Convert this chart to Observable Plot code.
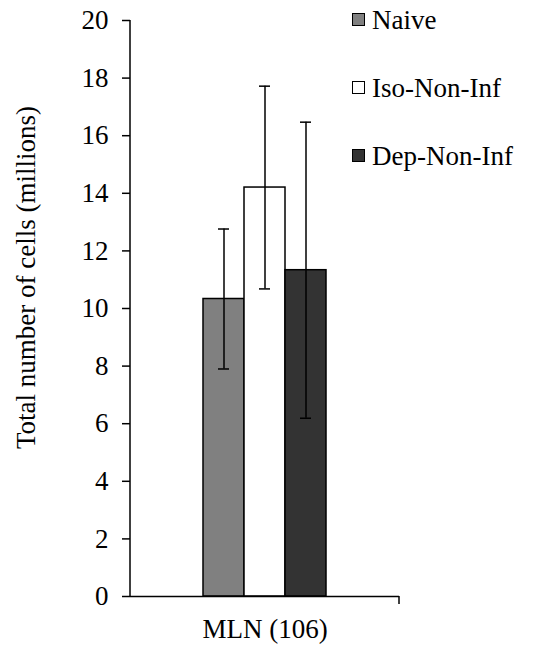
<!DOCTYPE html>
<html><head><meta charset="utf-8">
<script src="https://cdn.jsdelivr.net/npm/d3@7"></script>
<script src="https://cdn.jsdelivr.net/npm/@observablehq/plot@0.6"></script>
<style>
body{margin:0;background:#fff;}
#wrap{position:relative;width:534px;height:656px;font-family:'Liberation Serif','Times New Roman',serif;color:#000;}
.legend{position:absolute;left:352px;top:0;font-family:'Liberation Serif','Times New Roman',serif;}
.item{position:absolute;left:0;display:flex;align-items:center;white-space:nowrap;font-size:27px;line-height:30px;height:30px;}
.sw{width:11px;height:11px;border:1px solid #000;margin-right:7px;flex:none;}
</style></head><body><div id="wrap"></div>
<script>
const category = "MLN (106)";
const groups = ["Naive", "Iso-Non-Inf", "Dep-Non-Inf"];
const means = [10.33, 14.2, 11.33];
const errors = [2.43, 3.52, 5.14];
const colors = ["#808080", "#ffffff", "#333333"];
const yTicks = [0, 2, 4, 6, 8, 10, 12, 14, 16, 18, 20];
const yLabel = "Total number of cells (millions)";

const FONT = "'Liberation Serif','Times New Roman',serif";
const W = 534, H = 656, mL = 130, mR = 135, mT = 20, mB = 60;
const data = groups.map((g, i) => ({group: g, mean: means[i], lo: means[i] - errors[i], hi: means[i] + errors[i]}));

const plot = Plot.plot({
  width: W, height: H, marginLeft: mL, marginRight: mR, marginTop: mT, marginBottom: mB,
  style: {fontFamily: FONT, fontSize: "27px", color: "#000", background: "#fff", overflow: "visible"},
  x: {domain: groups, padding: 0, insetLeft: 72, insetRight: 72, axis: null},
  y: {domain: [0, 20], axis: null},
  color: {domain: groups, range: colors},
  marks: [
    Plot.barY(data, {x: "group", y: "mean", fill: "group", stroke: "#000", strokeWidth: 1.5}),
    Plot.ruleX(data, {x: "group", y1: "lo", y2: "hi", stroke: "#000", strokeWidth: 1.5}),
    Plot.tickY(data, {x: "group", y: "hi", stroke: "#000", strokeWidth: 1.5, insetLeft: 15, insetRight: 15}),
    Plot.tickY(data, {x: "group", y: "lo", stroke: "#000", strokeWidth: 1.5, insetLeft: 15, insetRight: 15}),
    Plot.axisY({ticks: yTicks, tickSize: 8, tickPadding: 14, tickFormat: d => String(d), label: null, fontSize: 27, fontFamily: FONT, stroke: "#000", strokeWidth: 1.5}),
    Plot.ruleY([0], {stroke: "#000", strokeWidth: 1.5}),
    Plot.text([category], {text: d => d, frameAnchor: "bottom", textAnchor: "middle", dy: 41, fontSize: 27, fontFamily: FONT, fill: "#000"}),
    Plot.text([yLabel], {text: d => d, frameAnchor: "left", textAnchor: "middle", rotate: -90, dx: -104, dy: -31, fontSize: 27, fontFamily: FONT, fill: "#000"})
  ]
});

// axis lines (left spine, right end tick of category axis)
const svg = d3.select(plot);
svg.style("font-family", FONT);
svg.append("line").attr("x1", mL).attr("x2", mL).attr("y1", mT).attr("y2", H - mB)
  .attr("stroke", "#000").attr("stroke-width", 1.5);
svg.append("line").attr("x1", W - mR).attr("x2", W - mR).attr("y1", H - mB).attr("y2", H - mB + 8)
  .attr("stroke", "#000").attr("stroke-width", 1.5);

const wrap = document.getElementById("wrap");
wrap.appendChild(plot);

const legend = document.createElement("div");
legend.className = "legend";
groups.forEach((g, i) => {
  const item = document.createElement("div");
  item.className = "item";
  item.style.top = (4.5 + i * 68) + "px";
  item.style.fontFamily = FONT;
  const sw = document.createElement("span");
  sw.className = "sw";
  sw.style.background = colors[i];
  const t = document.createElement("span");
  t.textContent = g;
  item.appendChild(sw); item.appendChild(t);
  legend.appendChild(item);
});
wrap.appendChild(legend);
</script></body></html>
